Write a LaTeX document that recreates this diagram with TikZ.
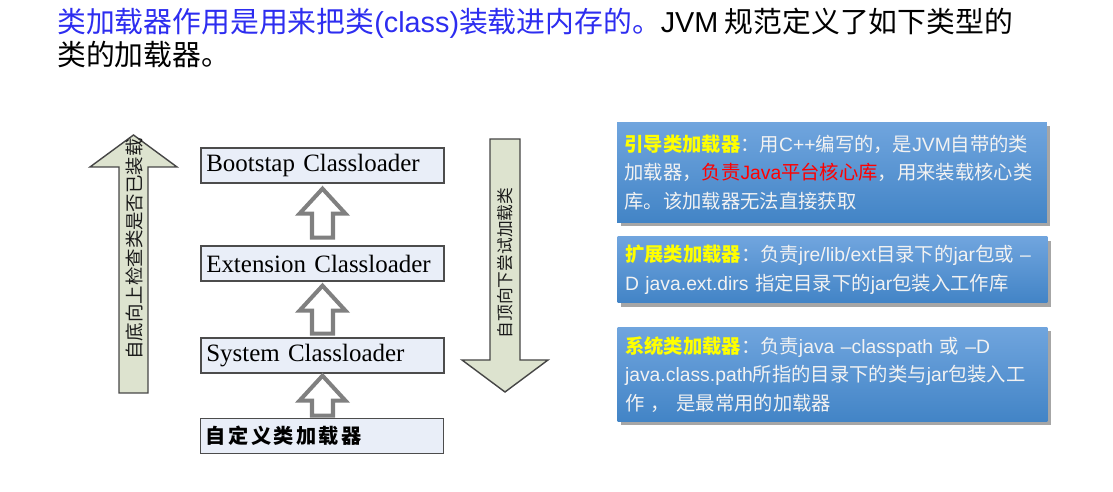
\documentclass[tikz,border=0pt]{standalone}
\usepackage{fontspec}
\setmainfont{Liberation Sans}
\newfontfamily\cjk{Noto Sans CJK SC}
\newfontfamily\cjkwide{Noto Sans CJK SC}[LetterSpace=12]
\newfontfamily\latin{Liberation Sans}
\newfontfamily\serifen{Liberation Serif}
\usetikzlibrary{calc,shadows}
\definecolor{titleblue}{RGB}{45,45,240}
\definecolor{loaderfill}{RGB}{233,238,248}
\definecolor{arrowfill}{RGB}{221,227,207}
\definecolor{hollowgray}{RGB}{128,128,128}
\definecolor{infotop}{RGB}{112,165,222}
\definecolor{infobottom}{RGB}{66,132,198}
\definecolor{infotext}{RGB}{242,242,242}
\definecolor{labelyellow}{RGB}{255,255,0}
\newcommand\la[1]{{\latin #1}}
\newcommand\hl[1]{{\color{labelyellow}\bfseries #1}}
\tikzset{
  title/.style={inner sep=0pt,font=\cjk\fontsize{16.4}{20}\selectfont},
  loader/.style={draw=gray!60!black,fill=loaderfill,line width=0.8pt,
    minimum width=4.86cm,minimum height=0.7cm,inner xsep=2pt,
    text width=4.65cm,align=left,font=\serifen\fontsize{14.2}{16}\selectfont},
  bigarrow/.style={draw=gray!55!black,fill=arrowfill,line width=0.8pt},
  vlabel/.style={rotate=90,inner sep=0pt,text=gray!20!black},
  hollow/.style={draw=hollowgray,fill=white,line width=2.3pt,line join=miter},
  infobox/.style={top color=infotop,bottom color=infobottom,
    drop shadow={shadow xshift=2pt,shadow yshift=-2pt,fill=black,opacity=0.35},
    minimum width=8.6cm,inner xsep=0.15cm,text width=8.3cm,align=left,
    text=infotext,font=\cjk\fontsize{11}{16.4}\selectfont},
  hollowup/.pic={
    \draw[hollow] (0,0) -- (23,25) -- (10.5,25) -- (10.5,#1) -- (-10.5,#1)
      -- (-10.5,25) -- (-23,25) -- cycle;
  },
}

\begin{document}
\begin{tikzpicture}[x=0.02cm,y=-0.02cm]
  \useasboundingbox (0,0) rectangle (1113,492);

  % title
  \node[title,anchor=west,text=titleblue] (t1) at (57,23)
    {类加载器作用是用来把类\la{(class)}装载进内存的。\textcolor{black}{\la{JVM} 规范定义了如下类型的}};
  \node[title,anchor=west] (t2) at (57,55) {类的加载器。};

  % big arrows
  \draw[bigarrow] (133.5,135) -- (177,167) -- (148,167) -- (148,393)
    -- (119,393) -- (119,167) -- (90,167) -- cycle;
  \draw[bigarrow] (490,139) -- (520,139) -- (520,360) -- (548,360)
    -- (505,392) -- (462,360) -- (490,360) -- cycle;
  \node[vlabel,font=\cjk\fontsize{10.5}{12}\selectfont] (uplabel) at (134,249) {自底向上检查类是否已装载};
  \node[vlabel,font=\cjk\fontsize{9.5}{11}\selectfont] (downlabel) at (505,263) {自顶向下尝试加载类};

  % loaders
  \node[loader] (boot) at (322.5,165.5) {Bootstap Classloader};
  \node[loader] (ext) at (322.5,263.5) {Extension Classloader};
  \node[loader] (sys) at (322.5,355.5) {System Classloader};
  \node[loader,font=\cjkwide\bfseries\fontsize{11.5}{14}\selectfont] (user) at (322,436) {自定义类加载器};

  \pic at ($(boot.south)+(0,5)$) {hollowup=49};
  \pic at ($(ext.south)+(0,4)$) {hollowup=48};
  \pic at ($(sys.south)+(0,2)$) {hollowup=40};

  % descriptions
  \node[infobox,minimum height=2.02cm] (bootinfo) at (832,172.5)
    {\hl{引导类加载器}：用\la{C++}编写的，是\la{JVM}自带的类\\
     加载器，{\color{red}负责\la{Java}平台核心库}，用来装载核心类\\
     库。该加载器无法直接获取};
  \node[infobox,minimum height=1.32cm] (extinfo) at (832.5,270)
    {\hl{扩展类加载器}：负责\la{jre/lib/ext}目录下的\la{jar}包或 \la{–}\\
     \la{D java.ext.dirs} 指定目录下的\la{jar}包装入工作库};
  \node[infobox,minimum height=1.9cm] (sysinfo) at (832.5,374.5)
    {\hl{系统类加载器}：负责\la{java –classpath} 或 \la{–D}\\
     \la{java.class.path}所指的目录下的类与\la{jar}包装入工\\
     作 ， 是最常用的加载器};
\end{tikzpicture}
\end{document}
